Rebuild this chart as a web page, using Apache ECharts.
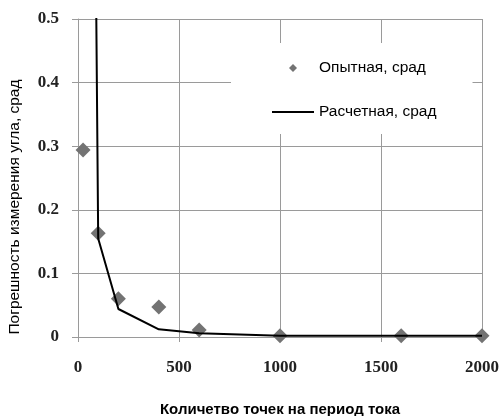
<!DOCTYPE html>
<html>
<head>
<meta charset="utf-8">
<script src="https://cdn.jsdelivr.net/npm/echarts@6/dist/echarts.min.js"></script>
<style>html,body{margin:0;padding:0;background:#fff;}#c{width:502px;height:416px;}</style>
</head>
<body>
<div id="c"></div>
<script>
var expX = [25, 100, 200, 400, 600, 1000, 1600, 2000];
var expY = [0.294, 0.163, 0.060, 0.047, 0.011, 0.002, 0.002, 0.002];
var calcX = [50, 100, 200, 400, 600, 1000, 1600, 2000];
var calcY = [2.0, 0.155, 0.044, 0.012, 0.006, 0.002, 0.002, 0.002];
var xTicks = [0, 500, 1000, 1500, 2000];
var yTicks = [0, 0.1, 0.2, 0.3, 0.4, 0.5];

function pairs(xs, ys) { return xs.map(function (x, i) { return [x, ys[i]]; }); }

var chart = echarts.init(document.getElementById('c'));
var gridColor = '#9a9a9a';
chart.setOption({
  animation: false,
  backgroundColor: '#fff',
  grid: { left: 78, right: 20, top: 19, bottom: 79, containLabel: false, outerBoundsMode: 'none' },
  legend: {
    orient: 'vertical',
    left: 231, top: 43,
    backgroundColor: '#fff',
    padding: [17, 36, 14, 41],
    itemGap: 28,
    itemWidth: 42,
    itemHeight: 8,
    symbolKeepAspect: true,
    textStyle: { fontFamily: 'Liberation Sans', fontSize: 15.5, color: '#000', padding: [0, 0, 0, 0] },
    data: [
      { name: 'Опытная, срад', icon: 'path://M0,-1L1,0L0,1L-1,0Z', itemStyle: { color: '#737373' } },
      { name: 'Расчетная, срад', icon: 'path://M0,0L42,0L42,2L0,2Z', itemStyle: { color: '#000' } }
    ]
  },
  xAxis: {
    type: 'value', min: xTicks[0], max: xTicks[xTicks.length - 1], interval: 500,
    name: 'Количетво точек на период тока', nameLocation: 'middle', nameGap: 65,
    nameTextStyle: { fontFamily: 'Liberation Sans', fontWeight: 'bold', fontSize: 15, color: '#000' },
    axisLine: { show: true, lineStyle: { color: gridColor, width: 1 } },
    axisTick: { show: true, length: 5, lineStyle: { color: gridColor } },
    splitLine: { show: true, lineStyle: { color: gridColor, width: 1 } },
    axisLabel: {
      margin: 22, fontFamily: 'Liberation Serif', fontWeight: 'bold', fontSize: 17, color: '#222',
      formatter: function (v) { return String(v); }
    }
  },
  yAxis: {
    type: 'value', min: yTicks[0], max: yTicks[yTicks.length - 1], interval: 0.1,
    name: 'Погрешность измерения угла, срад', nameLocation: 'middle', nameGap: 55, nameRotate: 90,
    nameTextStyle: { fontFamily: 'Liberation Sans', fontSize: 15.5, color: '#000', padding: [0, 58, 0, 0] },
    axisLine: { show: true, lineStyle: { color: gridColor, width: 1 } },
    axisTick: { show: true, length: 6, lineStyle: { color: gridColor } },
    splitLine: { show: true, lineStyle: { color: gridColor, width: 1 } },
    axisLabel: {
      margin: 19, fontFamily: 'Liberation Serif', fontWeight: 'bold', fontSize: 17, color: '#222',
      formatter: function (v) { return v === 0 ? '0' : v.toFixed(1); }
    }
  },
  series: [
    {
      name: 'Опытная, срад', type: 'scatter', symbol: 'diamond', symbolSize: 15,
      itemStyle: { color: '#737373', opacity: 1 },
      data: pairs(expX, expY), z: 3
    },
    {
      name: 'Расчетная, срад', type: 'line', symbol: 'none', clip: true,
      lineStyle: { color: '#000', width: 2 }, itemStyle: { color: '#000' },
      data: pairs(calcX, calcY), z: 4
    }
  ]
});
</script>
</body>
</html>
